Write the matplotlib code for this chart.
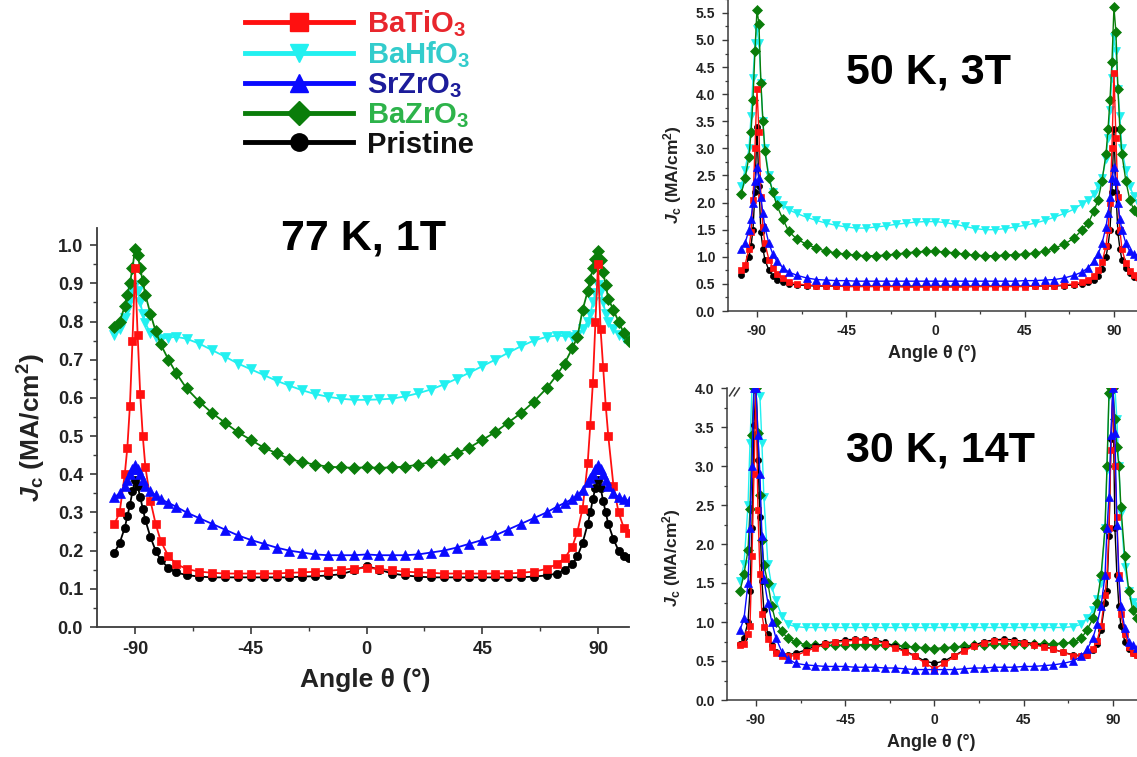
import matplotlib
matplotlib.use('Agg')
import matplotlib.pyplot as plt
from matplotlib.ticker import MultipleLocator, FormatStrFormatter
from matplotlib.lines import Line2D
from matplotlib.font_manager import FontProperties

plt.rcParams['font.family'] = ['Liberation Sans', 'DejaVu Sans']
plt.rcParams['font.weight'] = 'bold'
plt.rcParams['axes.unicode_minus'] = False
plt.rcParams['mathtext.fontset'] = 'custom'
plt.rcParams['mathtext.rm'] = 'Liberation Sans:bold'
plt.rcParams['mathtext.bf'] = 'Liberation Sans:bold'
plt.rcParams['mathtext.it'] = 'Liberation Sans:bold:italic'
plt.rcParams['mathtext.default'] = 'bf'

# ---------------- data ----------------
angles = [-98, -96, -94, -93, -92, -91, -90, -89, -88, -87, -86, -84, -82, -80, -77, -74, -70,
          -65, -60, -55, -50, -45, -40, -35, -30, -25, -20, -15, -10, -5, 0, 5, 10, 15, 20, 25,
          30, 35, 40, 45, 50, 55, 60, 65, 70, 74, 77, 80, 82, 84, 86, 87, 88, 89, 90, 91, 92,
          93, 94, 96, 98, 100, 102]

series_names = ['BaTiO$_3$', 'BaHfO$_3$', 'SrZrO$_3$', 'BaZrO$_3$', 'Pristine']

# 77 K, 1 T
k77_BaTiO3 = [0.27, 0.30, 0.40, 0.47, 0.58, 0.75, 0.94, 0.765, 0.61, 0.50, 0.42, 0.33, 0.27, 0.225,
              0.185, 0.165, 0.152, 0.145, 0.142, 0.14, 0.14, 0.14, 0.14, 0.14, 0.142, 0.143, 0.145,
              0.147, 0.15, 0.153, 0.155, 0.152, 0.148, 0.145, 0.143, 0.142, 0.14, 0.14, 0.14, 0.14,
              0.14, 0.14, 0.142, 0.145, 0.152, 0.165, 0.18, 0.21, 0.25, 0.31, 0.43, 0.53, 0.64,
              0.80, 0.95, 0.78, 0.68, 0.58, 0.50, 0.37, 0.30, 0.26, 0.245]
k77_BaHfO3 = [0.765, 0.78, 0.81, 0.83, 0.855, 0.88, 0.895, 0.88, 0.85, 0.82, 0.795, 0.77, 0.76,
              0.755, 0.758, 0.76, 0.755, 0.742, 0.725, 0.708, 0.69, 0.675, 0.66, 0.645, 0.632,
              0.62, 0.61, 0.603, 0.598, 0.595, 0.595, 0.596, 0.598, 0.604, 0.612, 0.622, 0.635,
              0.65, 0.666, 0.683, 0.70, 0.718, 0.735, 0.75, 0.76, 0.763, 0.762, 0.76, 0.765, 0.78,
              0.80, 0.82, 0.85, 0.875, 0.895, 0.88, 0.85, 0.82, 0.80, 0.78, 0.765, 0.758, 0.755]
k77_SrZrO3 = [0.34, 0.35, 0.37, 0.385, 0.40, 0.415, 0.425, 0.415, 0.40, 0.385, 0.37, 0.355, 0.345,
              0.335, 0.325, 0.315, 0.30, 0.285, 0.27, 0.255, 0.24, 0.228, 0.218, 0.208, 0.20,
              0.195, 0.19, 0.188, 0.188, 0.188, 0.19, 0.188, 0.188, 0.188, 0.19, 0.195, 0.20,
              0.208, 0.218, 0.228, 0.24, 0.255, 0.27, 0.285, 0.30, 0.315, 0.325, 0.335, 0.345,
              0.36, 0.38, 0.39, 0.40, 0.415, 0.425, 0.415, 0.40, 0.385, 0.37, 0.35, 0.34, 0.335, 0.33]
k77_BaZrO3 = [0.785, 0.80, 0.84, 0.87, 0.90, 0.94, 0.99, 0.975, 0.94, 0.905, 0.87, 0.82, 0.775,
              0.74, 0.70, 0.665, 0.625, 0.59, 0.56, 0.535, 0.51, 0.49, 0.47, 0.455, 0.44, 0.432,
              0.425, 0.42, 0.418, 0.417, 0.418, 0.417, 0.418, 0.42, 0.425, 0.432, 0.44, 0.455,
              0.47, 0.49, 0.51, 0.535, 0.56, 0.59, 0.625, 0.66, 0.69, 0.73, 0.76, 0.83, 0.88,
              0.91, 0.94, 0.965, 0.985, 0.96, 0.93, 0.895, 0.86, 0.83, 0.80, 0.77, 0.75]
k77_Pristine = [0.195, 0.22, 0.26, 0.29, 0.32, 0.355, 0.385, 0.37, 0.34, 0.31, 0.28, 0.235, 0.20,
                0.175, 0.155, 0.143, 0.136, 0.132, 0.13, 0.13, 0.13, 0.13, 0.13, 0.13, 0.13, 0.132,
                0.133, 0.135, 0.138, 0.148, 0.16, 0.15, 0.14, 0.135, 0.132, 0.13, 0.13, 0.13, 0.13,
                0.13, 0.13, 0.13, 0.13, 0.132, 0.135, 0.14, 0.15, 0.165, 0.185, 0.22, 0.27, 0.30,
                0.335, 0.365, 0.385, 0.365, 0.33, 0.30, 0.27, 0.23, 0.20, 0.185, 0.18]

# 50 K, 3 T
k50_BaTiO3 = [0.75, 0.85, 1.15, 1.45, 2.05, 3.0, 4.1, 3.3, 2.1, 1.55, 1.25, 0.95, 0.8, 0.68, 0.6,
              0.54, 0.5, 0.48, 0.47, 0.46, 0.46, 0.45, 0.45, 0.45, 0.45, 0.45, 0.45, 0.44, 0.44,
              0.44, 0.44, 0.44, 0.44, 0.44, 0.45, 0.45, 0.45, 0.45, 0.45, 0.45, 0.46, 0.46, 0.47,
              0.48, 0.5, 0.53, 0.57, 0.65, 0.75, 0.9, 1.2, 1.5, 2.0, 3.0, 4.4, 3.2, 2.1, 1.5, 1.15,
              0.88, 0.74, 0.66, 0.62]
k50_BaHfO3 = [2.3, 2.6, 3.0, 3.6, 4.3, 4.95, 5.2, 4.95, 4.2, 3.5, 3.0, 2.5, 2.2, 2.05, 1.95, 1.87,
              1.8, 1.73, 1.67, 1.62, 1.58, 1.55, 1.53, 1.53, 1.55, 1.57, 1.6, 1.62, 1.64, 1.65,
              1.65, 1.63, 1.6, 1.56, 1.52, 1.5, 1.5, 1.52, 1.55, 1.58, 1.62, 1.67, 1.73, 1.8, 1.88,
              1.98, 2.05, 2.15, 2.3, 2.45, 2.8, 3.2, 3.7, 4.3, 5.05, 4.8, 4.1, 3.6, 3.0, 2.6, 2.3,
              2.12, 2.0]
k50_SrZrO3 = [1.15, 1.25, 1.5, 1.7, 2.0, 2.4, 2.65, 2.45, 2.1, 1.8, 1.55, 1.25, 1.05, 0.92, 0.8,
              0.72, 0.66, 0.61, 0.58, 0.57, 0.56, 0.56, 0.55, 0.55, 0.55, 0.55, 0.55, 0.55, 0.55,
              0.55, 0.55, 0.55, 0.55, 0.55, 0.55, 0.55, 0.55, 0.55, 0.55, 0.56, 0.56, 0.57, 0.58,
              0.61, 0.66, 0.72, 0.8, 0.92, 1.05, 1.25, 1.55, 1.8, 2.1, 2.45, 2.65, 2.4, 2.0, 1.7,
              1.5, 1.25, 1.1, 1.05, 1.02]
k50_BaZrO3 = [2.15, 2.45, 2.85, 3.3, 3.9, 4.8, 5.55, 5.3, 4.2, 3.5, 2.95, 2.45, 2.2, 1.95, 1.7,
              1.47, 1.33, 1.23, 1.16, 1.1, 1.07, 1.05, 1.03, 1.02, 1.02, 1.03, 1.05, 1.07, 1.09,
              1.10, 1.10, 1.09, 1.07, 1.05, 1.03, 1.02, 1.02, 1.03, 1.04, 1.05, 1.07, 1.1, 1.16,
              1.23, 1.35, 1.5, 1.62, 1.85, 2.05, 2.4, 2.9, 3.35, 3.9, 4.6, 5.6, 5.15, 4.1, 3.35,
              2.9, 2.4, 2.05, 1.87, 1.8]
k50_Pristine = [0.66, 0.78, 1.0, 1.2, 1.5, 2.2, 3.4, 2.3, 1.45, 1.15, 0.95, 0.75, 0.65, 0.58, 0.53,
                0.5, 0.48, 0.47, 0.46, 0.46, 0.46, 0.46, 0.46, 0.46, 0.46, 0.46, 0.46, 0.46, 0.46,
                0.46, 0.46, 0.46, 0.46, 0.46, 0.46, 0.46, 0.46, 0.46, 0.46, 0.46, 0.46, 0.46, 0.46,
                0.47, 0.48, 0.5, 0.53, 0.58, 0.65, 0.78, 1.0, 1.2, 1.5, 2.2, 3.35, 2.2, 1.45, 1.15,
                0.95, 0.8, 0.7, 0.63, 0.6]

# 30 K, 14 T
k30_BaTiO3 = [0.7, 0.72, 0.85, 0.95, 1.84, 2.9, 4.0, 2.44, 1.62, 1.1, 0.94, 0.78, 0.68, 0.6, 0.57,
              0.56, 0.57, 0.62, 0.67, 0.72, 0.74, 0.75, 0.77, 0.77, 0.76, 0.72, 0.67, 0.62, 0.56,
              0.48, 0.40, 0.47, 0.56, 0.63, 0.69, 0.73, 0.76, 0.76, 0.75, 0.73, 0.71, 0.68, 0.65,
              0.61, 0.57, 0.56, 0.58, 0.66, 0.76, 0.95, 1.35, 1.6, 2.2, 3.2, 4.0, 3.0, 2.35, 1.6,
              1.1, 0.85, 0.68, 0.6, 0.58]
k30_BaHfO3 = [1.52, 1.75, 2.5, 3.3, 4.0, 4.0, 4.0, 4.0, 3.9, 3.3, 2.6, 1.75, 1.45, 1.28, 1.08, 0.97,
              0.94, 0.93, 0.93, 0.93, 0.93, 0.93, 0.93, 0.93, 0.93, 0.93, 0.93, 0.93, 0.93, 0.93,
              0.93, 0.93, 0.93, 0.93, 0.93, 0.93, 0.93, 0.93, 0.93, 0.93, 0.93, 0.93, 0.93, 0.93,
              0.94, 0.97, 1.05, 1.15, 1.3, 1.5, 2.2, 2.95, 3.9, 4.0, 4.0, 4.0, 3.6, 3.0, 2.4, 1.7,
              1.4, 1.26, 1.2]
k30_SrZrO3 = [0.9, 1.05, 1.5, 2.2, 3.0, 4.0, 4.0, 3.4, 2.9, 2.1, 1.55, 1.25, 1.0, 0.8, 0.62, 0.53,
              0.47, 0.45, 0.44, 0.43, 0.43, 0.43, 0.42, 0.42, 0.42, 0.41, 0.41, 0.40, 0.39, 0.39,
              0.39, 0.39, 0.39, 0.40, 0.41, 0.41, 0.42, 0.42, 0.42, 0.43, 0.43, 0.44, 0.45, 0.47,
              0.5, 0.56, 0.65, 0.8, 0.98, 1.2, 1.6, 2.2, 2.6, 3.4, 4.0, 3.42, 2.24, 1.58, 1.2,
              0.92, 0.75, 0.7, 0.67]
k30_BaZrO3 = [1.4, 1.62, 1.92, 2.45, 3.4, 4.0, 4.0, 3.42, 2.63, 2.05, 1.73, 1.5, 1.2, 1.0, 0.88,
              0.79, 0.74, 0.71, 0.7, 0.7, 0.7, 0.7, 0.71, 0.71, 0.71, 0.7, 0.7, 0.69, 0.68, 0.67,
              0.66, 0.67, 0.68, 0.69, 0.7, 0.71, 0.72, 0.72, 0.72, 0.72, 0.72, 0.72, 0.72, 0.73,
              0.74, 0.79, 0.9, 1.05, 1.25, 1.6, 2.2, 3.0, 3.93, 4.0, 4.0, 3.6, 3.25, 3.0, 2.48,
              1.84, 1.4, 1.15, 1.05]
k30_Pristine = [0.72, 0.8, 1.0, 1.4, 2.2, 3.53, 4.0, 3.08, 2.35, 1.53, 1.15, 0.85, 0.7, 0.62, 0.58,
                0.58, 0.6, 0.64, 0.69, 0.73, 0.75, 0.77, 0.78, 0.78, 0.77, 0.74, 0.69, 0.63, 0.57,
                0.5, 0.47, 0.5, 0.57, 0.64, 0.7, 0.75, 0.77, 0.78, 0.77, 0.75, 0.72, 0.69, 0.65,
                0.61, 0.58, 0.57, 0.58, 0.64, 0.72, 0.9, 1.25, 1.4, 2.1, 3.35, 4.0, 2.2, 1.6, 1.2,
                0.95, 0.75, 0.65, 0.6, 0.58]

panel_titles = ['77 K, 1T', '50 K, 3T', '30 K, 14T']
x_ticks = [-90, -45, 0, 45, 90]
xlabel = 'Angle θ (°)'
ylabel = r'$\mathit{J}_{c}$ (MA/cm$^{2}$)'

# ---------------- style ----------------
colors = {'BaTiO3': '#ff1010', 'BaHfO3': '#22f0f0', 'SrZrO3': '#0a0aff',
          'BaZrO3': '#0a7d0a', 'Pristine': '#000000'}
text_colors = ['#e8262d', '#33cccc', '#1c1c9a', '#2db34a', '#111111']
markers = {'BaTiO3': 's', 'BaHfO3': 'v', 'SrZrO3': '^', 'BaZrO3': 'D', 'Pristine': 'o'}
msize_main = {'BaTiO3': 5.5, 'BaHfO3': 7.0, 'SrZrO3': 7.0, 'BaZrO3': 6.0, 'Pristine': 6.0}
msize_small = {'BaTiO3': 4.2, 'BaHfO3': 5.2, 'SrZrO3': 5.2, 'BaZrO3': 4.6, 'Pristine': 4.4}
draw_order = ['BaHfO3', 'BaZrO3', 'Pristine', 'BaTiO3', 'SrZrO3']

W, H = 1137, 757
fig = plt.figure(figsize=(W / 100, H / 100), dpi=100)


def px_axes(left, bottom, right, top):
    return fig.add_axes([left / W, 1 - bottom / H, (right - left) / W, (bottom - top) / H])


ax_main = px_axes(97, 627, 629, 228)
ax_tr = px_axes(728, 311, 1154, -1)
ax_br = px_axes(727, 700, 1153, 388)

panel_data = [
    (ax_main, {'BaTiO3': k77_BaTiO3, 'BaHfO3': k77_BaHfO3, 'SrZrO3': k77_SrZrO3,
               'BaZrO3': k77_BaZrO3, 'Pristine': k77_Pristine}),
    (ax_tr, {'BaTiO3': k50_BaTiO3, 'BaHfO3': k50_BaHfO3, 'SrZrO3': k50_SrZrO3,
             'BaZrO3': k50_BaZrO3, 'Pristine': k50_Pristine}),
    (ax_br, {'BaTiO3': k30_BaTiO3, 'BaHfO3': k30_BaHfO3, 'SrZrO3': k30_SrZrO3,
             'BaZrO3': k30_BaZrO3, 'Pristine': k30_Pristine}),
]

for i, (ax, data) in enumerate(panel_data):
    msz = msize_main if i == 0 else msize_small
    lw = 1.3 if i == 0 else 1.0
    for key in draw_order:
        ax.plot(angles, data[key], color=colors[key], marker=markers[key], ms=msz[key],
                lw=lw, mec=colors[key], mew=0.5)

spine_c = '#3a3a3a'
for i, ax in enumerate([ax_main, ax_tr, ax_br]):
    for s in ['top', 'right']:
        ax.spines[s].set_visible(False)
    for s in ['left', 'bottom']:
        ax.spines[s].set_color(spine_c)
        ax.spines[s].set_linewidth(1.3 if i == 0 else 1.1)
    ax.set_xticks(x_ticks)
    ax.xaxis.set_minor_locator(MultipleLocator(22.5))
    if i == 0:
        ax.yaxis.set_major_locator(MultipleLocator(0.1))
        ax.yaxis.set_minor_locator(MultipleLocator(0.05))
        ax.tick_params(which='major', direction='out', length=5, width=1.2, colors=spine_c,
                       labelsize=13, labelcolor='#222222', pad=5)
        ax.tick_params(which='minor', direction='out', length=3, width=1.0, colors=spine_c)
    else:
        ax.yaxis.set_major_locator(MultipleLocator(0.5))
        ax.yaxis.set_minor_locator(MultipleLocator(0.25))
        ax.tick_params(which='major', direction='out', length=4, width=1.0, colors=spine_c,
                       labelsize=10, labelcolor='#222222', pad=5)
        ax.tick_params(which='minor', direction='out', length=2.5, width=0.9, colors=spine_c)
    ax.yaxis.set_major_formatter(FormatStrFormatter('%.1f'))
    for lab in ax.get_xticklabels() + ax.get_yticklabels():
        lab.set_fontweight('bold')

ax_main.set_xlim(-104.8, 102.05)
ax_main.set_ylim(0, 1.045)
ax_tr.set_xlim(-104.6, 110.2)
ax_tr.set_ylim(0, 5.756)
ax_br.set_xlim(-104.6, 110.2)
ax_br.set_ylim(0, 4.0)

ax_main.set_xlabel(xlabel, fontsize=19, fontweight='bold', va='center', color='#222222')
ax_main.xaxis.set_label_coords(0.504, -0.133)
ax_main.set_ylabel(ylabel, fontsize=19, fontweight='bold', va='center', color='#222222')
ax_main.yaxis.set_label_coords(-0.122, 0.5)

for ax, ylc in [(ax_tr, 0.436), (ax_br, 0.455)]:
    ax.set_xlabel(xlabel, fontsize=13, fontweight='bold', va='center', color='#222222')
    ax.xaxis.set_label_coords(0.479, -0.135)
    ax.set_ylabel(ylabel, fontsize=12.5, fontweight='bold', va='center', color='#222222')
    ax.yaxis.set_label_coords(-0.129, ylc)

# axis break mark on the 30 K panel
for dx in (0.0, 0.011):
    ax_br.plot([0.006 + dx, 0.018 + dx], [0.975, 1.0], transform=ax_br.transAxes,
               color=spine_c, lw=1.1, clip_on=False)

# panel titles
for (px, py), t in zip([(364, 238), (928, 73), (941, 450)], panel_titles):
    fig.text(px / W, 1 - py / H, t, fontsize=31, fontweight='bold', ha='center', va='center')

# legend
order = ['BaTiO3', 'BaHfO3', 'SrZrO3', 'BaZrO3', 'Pristine']
handles = [Line2D([], [], color=colors[k], marker=markers[k], lw=3.5, ms=12.5,
                  mec=colors[k]) for k in order]
leg = fig.legend(handles, series_names, loc='upper left', bbox_to_anchor=(245 / W, 1 - 8 / H),
                 frameon=False, handlelength=3.7, handletextpad=0.48, labelspacing=0.03,
                 borderpad=0, borderaxespad=0,
                 prop=FontProperties(family='Liberation Sans', weight='bold', size=21))
for txt, c in zip(leg.get_texts(), text_colors):
    txt.set_color(c)

fig.savefig('out.png', dpi=100)
